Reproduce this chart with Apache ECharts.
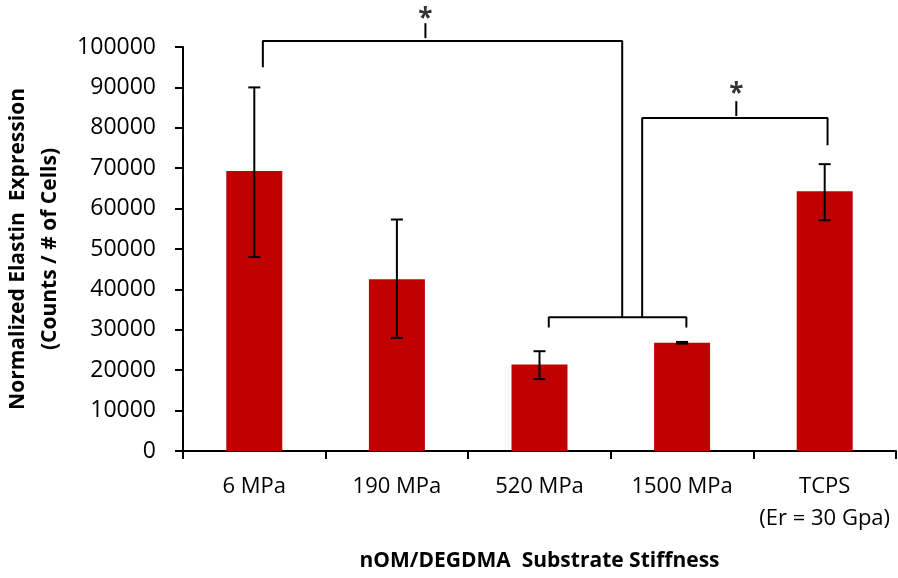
<!DOCTYPE html>
<html>
<head>
<meta charset="utf-8">
<script src="https://cdn.jsdelivr.net/npm/echarts@6/dist/echarts.min.js"></script>
<style>
  html, body { margin: 0; padding: 0; background: #fff; }
  #chart { width: 898px; height: 578px; }
</style>
</head>
<body>
<div id="chart"></div>
<script>
const categories = ["6 MPa", "190 MPa", "520 MPa", "1500 MPa", "TCPS\n(Er = 30 Gpa)"];
const means = [69300, 42500, 21400, 26800, 64300];
const errLow = [48000, 28000, 17800, 26600, 57100];
const errHigh = [90000, 57300, 24700, 27000, 71000];
const yTicks = [0, 100000, 10000];

// significance brackets, in [category position, value]
const bracketWide = [[0.06, 95000], [0.06, 101500], [2.58, 101500], [2.58, 33100]];
const bracketPair = [[2.065, 30600], [2.065, 33100], [3.03, 33100], [3.03, 30600]];
const bracketTcps = [[2.72, 33100], [2.72, 82400], [4.02, 82400], [4.02, 75700]];
const starTicks = [
  [[1.2, 102200], [1.2, 105900]],
  [[3.38, 82900], [3.38, 86600]]
];
const stars = [[1.2, 106700], [3.38, 88100]];

document.addEventListener("DOMContentLoaded", function () {
  const myChart = echarts.init(document.getElementById("chart"));
  const font = "'Open Sans', 'Noto Sans', sans-serif";

  const lineStyle = { color: "#000", width: 2 };
  function bracket(points) {
    return {
      type: "line",
      xAxisIndex: 1,
      data: points,
      symbol: "none",
      clip: false,
      silent: true,
      lineStyle: lineStyle,
      z: 5,
    };
  }

  const option = {
    animation: false,
    textStyle: { fontFamily: font },
    grid: { left: 183, right: 2, top: 47, bottom: 127, containLabel: false, outerBoundsMode: "none" },
    xAxis: [
      {
        type: "category",
        data: categories,
        name: "nOM/DEGDMA  Substrate Stiffness",
        nameLocation: "middle",
        nameGap: 100,
        nameTextStyle: { fontSize: 21, fontWeight: "bold", color: "#000", fontFamily: font },
        axisLine: { lineStyle: { color: "#000", width: 2 } },
        axisTick: { show: true, length: 8, lineStyle: { color: "#000", width: 2 } },
        axisLabel: { color: "#000", fontSize: 22, margin: 20, lineHeight: 32, interval: 0, fontFamily: font },
      },
      { type: "value", min: -0.5, max: 4.5, show: false },
    ],
    yAxis: {
      type: "value",
      min: yTicks[0],
      max: yTicks[1],
      interval: yTicks[2],
      name: "Normalized Elastin  Expression\n(Counts / # of Cells)",
      nameLocation: "middle",
      nameGap: 107,
      nameTextStyle: { fontSize: 21, fontWeight: "bold", color: "#000", lineHeight: 32, fontFamily: font },
      axisLine: { show: true, onZero: false, lineStyle: { color: "#000", width: 2 } },
      axisTick: { show: true, length: 8, lineStyle: { color: "#000", width: 2 } },
      axisLabel: { color: "#000", fontSize: 23, margin: 27, fontFamily: font, formatter: function (v) { return String(v); } },
      splitLine: { show: false },
    },
    series: [
      {
        type: "bar",
        data: means,
        barWidth: 56,
        itemStyle: { color: "#C00000" },
      },
      {
        type: "custom",
        data: categories.map(function (c, i) { return [i, errLow[i], errHigh[i]]; }),
        renderItem: function (params, api) {
          const lo = api.coord([api.value(0), api.value(1)]);
          const hi = api.coord([api.value(0), api.value(2)]);
          const half = 6;
          const style = { stroke: "#000", lineWidth: 2 };
          return {
            type: "group",
            children: [
              { type: "line", shape: { x1: hi[0], y1: hi[1], x2: lo[0], y2: lo[1] }, style: style },
              { type: "line", shape: { x1: hi[0] - half, y1: hi[1], x2: hi[0] + half, y2: hi[1] }, style: style },
              { type: "line", shape: { x1: lo[0] - half, y1: lo[1], x2: lo[0] + half, y2: lo[1] }, style: style },
            ],
          };
        },
        z: 4,
      },
      bracket(bracketWide),
      bracket(bracketPair),
      bracket(bracketTcps),
      bracket(starTicks[0]),
      bracket(starTicks[1]),
      {
        type: "scatter",
        xAxisIndex: 1,
        data: stars,
        symbolSize: 1,
        itemStyle: { color: "transparent" },
        clip: false,
        silent: true,
        label: {
          show: true,
          position: "inside",
          formatter: "*",
          color: "#000",
          fontSize: 26,
          fontWeight: "bold",
          fontFamily: font,
        },
      },
    ],
  };
  myChart.setOption(option);
  window.addEventListener("resize", function () {
    myChart.resize();
  });
});
</script>
</body>
</html>
